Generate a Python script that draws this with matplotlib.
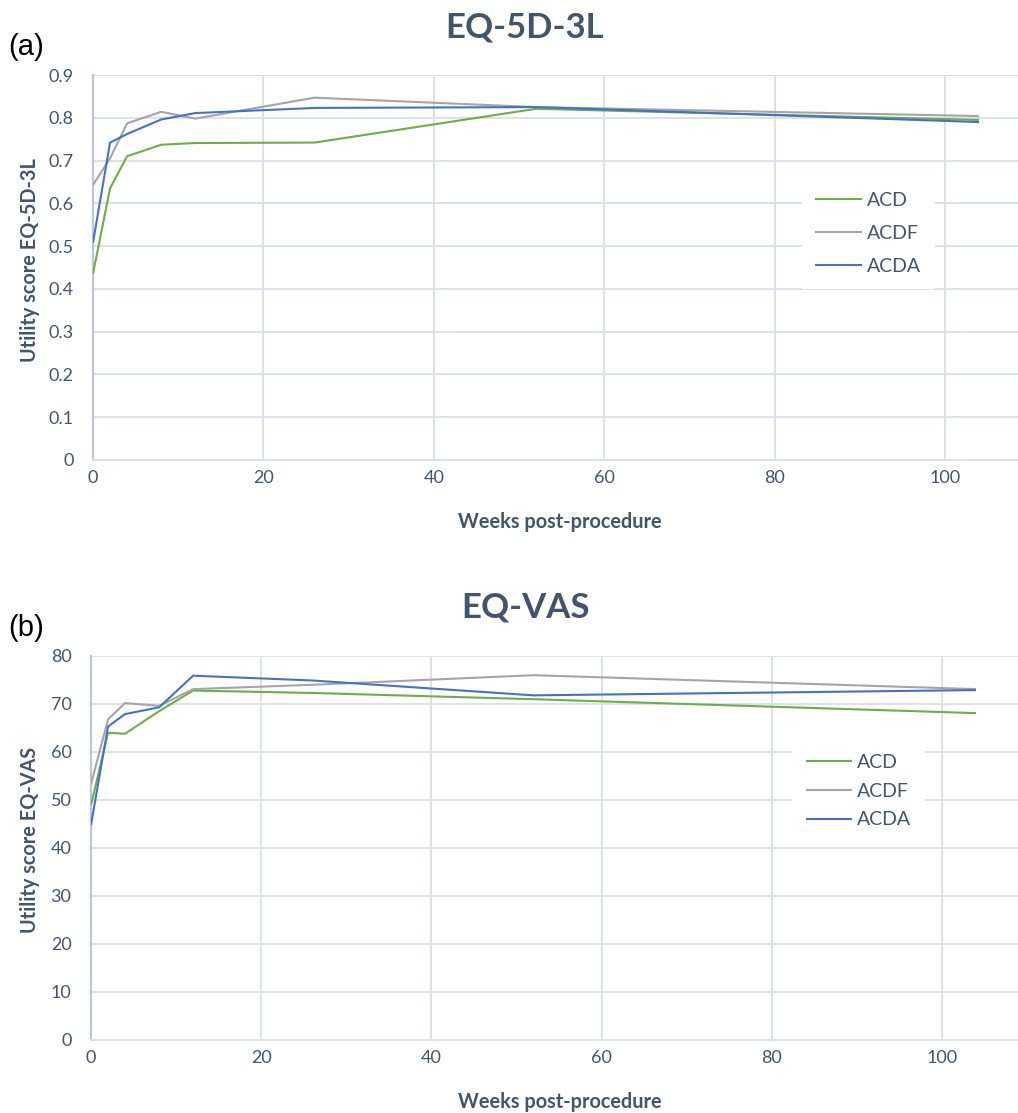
import matplotlib
matplotlib.use("Agg")
import matplotlib.pyplot as plt

weeks = [0, 2, 4, 8, 12, 26, 52, 104]
series_names = ["ACD", "ACDF", "ACDA"]

eq5d_acd = [0.435, 0.635, 0.710, 0.737, 0.741, 0.742, 0.821, 0.795]
eq5d_acdf = [0.643, 0.705, 0.787, 0.814, 0.798, 0.847, 0.825, 0.804]
eq5d_acda = [0.508, 0.742, 0.762, 0.796, 0.811, 0.823, 0.825, 0.790]

vas_acd = [48.9, 64.0, 63.8, 68.5, 72.8, 72.3, 71.0, 68.1]
vas_acdf = [53.3, 66.8, 70.2, 69.6, 73.1, 74.0, 76.0, 73.1]
vas_acda = [44.8, 65.3, 67.9, 69.3, 75.9, 74.9, 71.8, 72.9]

eq5d_yticks = [0, 0.1, 0.2, 0.3, 0.4, 0.5, 0.6, 0.7, 0.8, 0.9]
vas_yticks = [0, 10, 20, 30, 40, 50, 60, 70, 80]
xticks = [0, 20, 40, 60, 80, 100]

colors = ["#70AD47", "#A5A5A5", "#4472C4"]
TXT = "#44546A"
GRID = "#DDE1E8"
SPINE = "#BCC6D5"
FONT = ["Lato", "DejaVu Sans"]

plt.rcParams["font.family"] = FONT

W, H = 1018, 1113
fig = plt.figure(figsize=(W / 100, H / 100), dpi=100)


def make_axes(left_px, top_px, bottom_px, right_px=W):
    return fig.add_axes([left_px / W, 1 - bottom_px / H,
                         (right_px - left_px) / W, (bottom_px - top_px) / H])


def style(ax, left_px, top_px, bottom_px, data, yticks, ylabel, title, panel,
          title_y, panel_y, leg_center, labelspacing, xmax):
    for vals, name, c in zip(data, series_names, colors):
        ax.plot(weeks, vals, color=c, lw=1.5, label=name, solid_capstyle="butt", zorder=3)
    ax.set_xlim(0, xmax)
    ax.set_ylim(yticks[0], yticks[-1])
    ax.set_xticks(xticks)
    ax.set_yticks(yticks)
    ax.set_yticklabels([f"{t:g}" for t in yticks])
    ax.grid(True, color=GRID, lw=1.4, zorder=0)
    ax.set_axisbelow(True)
    for s in ["top", "right"]:
        ax.spines[s].set_visible(False)
    ax.spines["left"].set_color(SPINE)
    ax.spines["left"].set_linewidth(1.6)
    ax.spines["bottom"].set_color(GRID)
    ax.spines["bottom"].set_linewidth(1.4)
    ax.tick_params(length=0, labelsize=13, colors=TXT)
    ax.tick_params(axis="x", pad=7)
    ax.tick_params(axis="y", pad=14)
    aw = W - left_px
    ah = bottom_px - top_px
    ax.set_xlabel("Weeks post-procedure", fontsize=14.3, fontweight="bold", color=TXT)
    ax.xaxis.set_label_coords((560 - left_px) / aw, -(62 / ah))
    ax.xaxis.label.set_va("center")
    ax.set_ylabel(ylabel, fontsize=14.3, fontweight="bold", color=TXT)
    ax.yaxis.set_label_coords(-(left_px - 30) / aw, 0.52)
    ax.yaxis.label.set_va("center")
    fig.text(525 / W, 1 - title_y / H, title, ha="center", va="center",
             fontsize=25, fontweight="bold", color=TXT)
    fig.text(8 / W, 1 - panel_y / H, panel, ha="left", va="center",
             fontsize=21, color="black", family=["Liberation Sans", "DejaVu Sans"])
    leg = ax.legend(loc="center", bbox_to_anchor=leg_center, frameon=True,
                    fancybox=False, fontsize=14, handlelength=2.4,
                    labelspacing=labelspacing, borderpad=0.7, handletextpad=0.25,
                    borderaxespad=0)
    leg.get_frame().set_facecolor("white")
    leg.get_frame().set_edgecolor("none")
    leg.get_frame().set_alpha(1)
    for t in leg.get_texts():
        t.set_color(TXT)


ax1 = make_axes(93, 75, 460)
xmax1 = (W - 93) / 8.52
style(ax1, 93, 75, 460, [eq5d_acd, eq5d_acdf, eq5d_acda], eq5d_yticks,
      "Utility score EQ-5D-3L", "EQ-5D-3L", "(a)", 28, 47, (0.838, 0.588), 0.82, xmax1)

ax2 = make_axes(91, 656, 1040)
xmax2 = (W - 91) / 8.51
style(ax2, 91, 656, 1040, [vas_acd, vas_acdf, vas_acda], vas_yticks,
      "Utility score EQ-VAS", "EQ-VAS", "(b)", 607, 628, (0.828, 0.648), 0.6, xmax2)

fig.savefig("out.png", dpi=100, facecolor="white")
